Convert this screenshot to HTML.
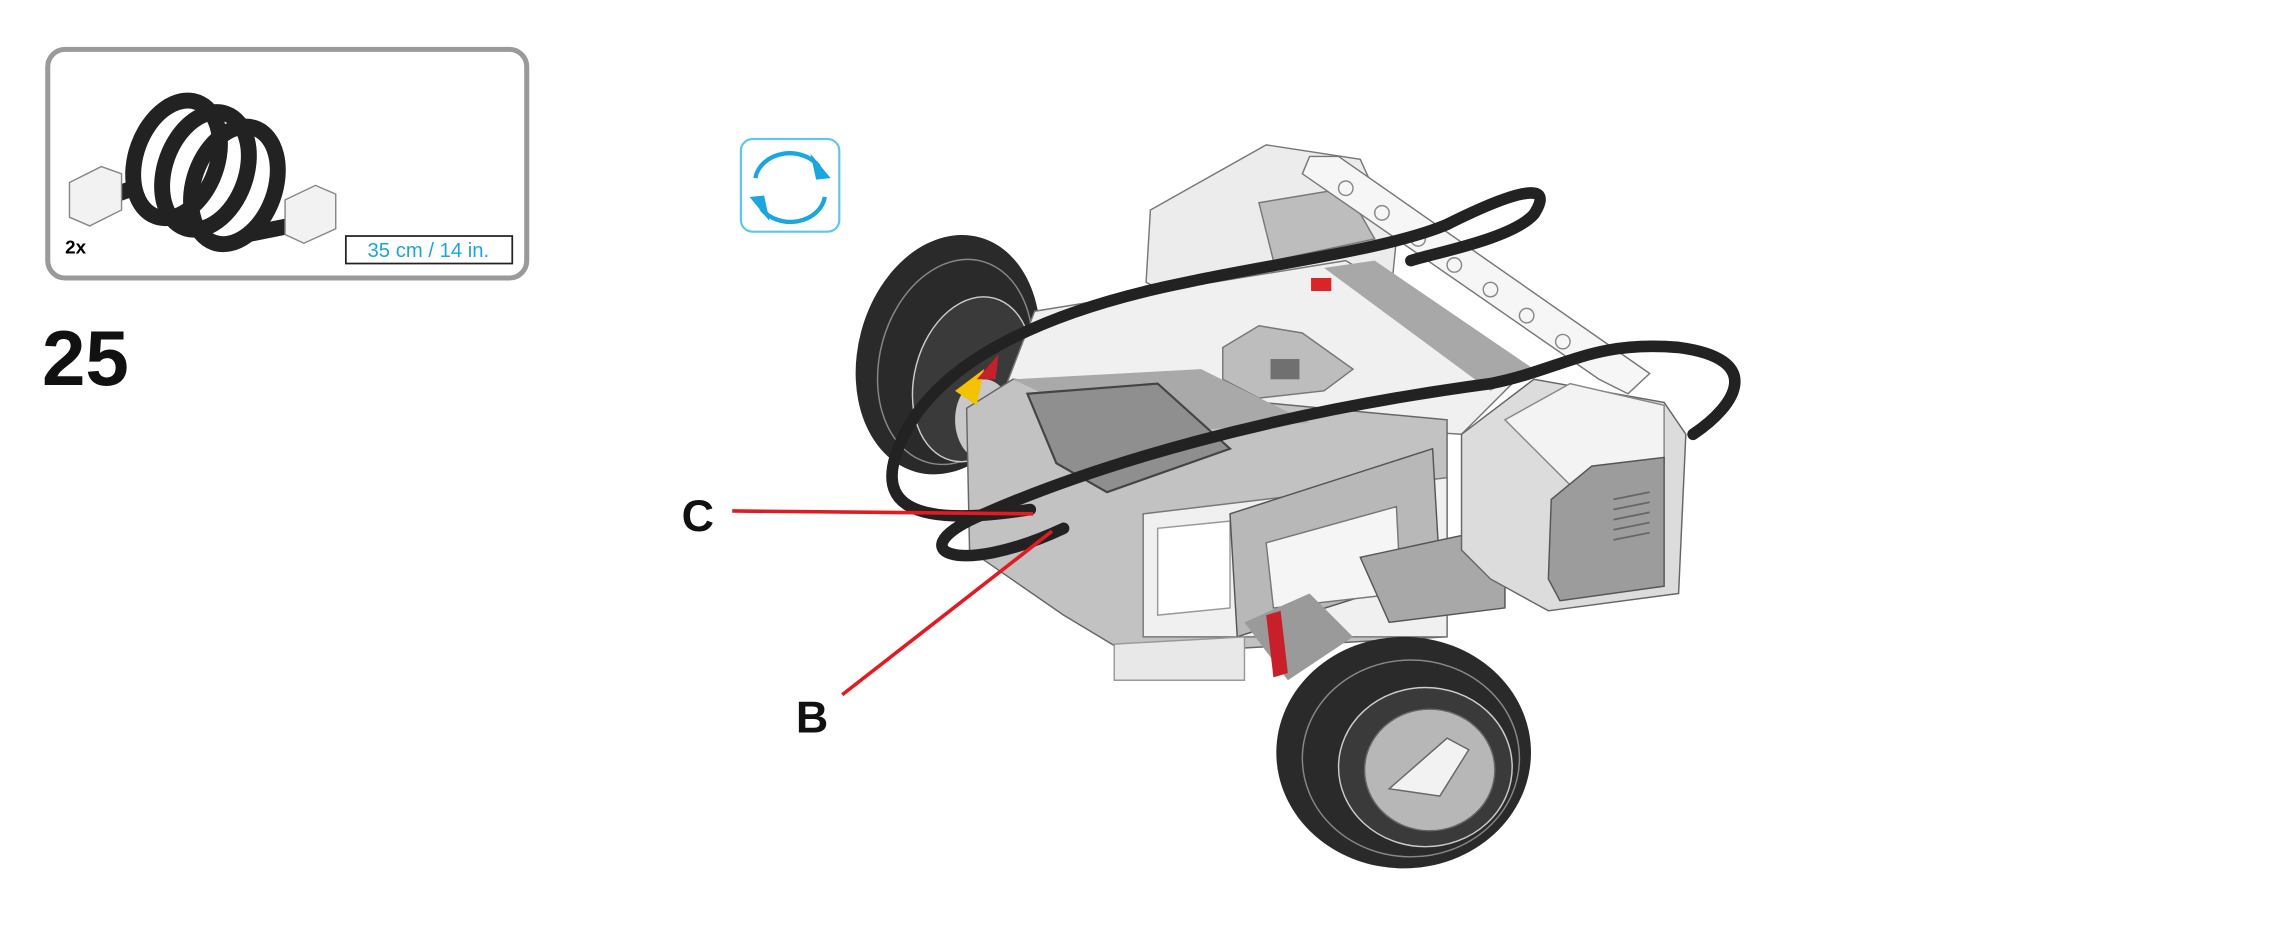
<!DOCTYPE html>
<html><head><meta charset="utf-8"><style>
html,body{margin:0;padding:0;background:#fff;}
svg{display:block;}
</style></head><body>
<svg width="2269" height="938" viewBox="0 0 1568 648" xmlns="http://www.w3.org/2000/svg">
<rect width="1568" height="648" fill="#fff"/>
<!-- parts box -->
<rect x="33" y="34" width="331" height="158" rx="12" fill="#fff" stroke="#9a9a9a" stroke-width="3.5"/>
<g fill="none" stroke="#222" stroke-width="11">
<ellipse cx="122" cy="110" rx="28" ry="42" transform="rotate(20 122 110)"/>
<ellipse cx="142" cy="118" rx="28" ry="42" transform="rotate(20 142 118)"/>
<ellipse cx="162" cy="128" rx="28" ry="42" transform="rotate(20 162 128)"/>
<path d="M92 130 L78 135 M170 162 L205 155"/>
</g>
<g fill="#f2f2f2" stroke="#888" stroke-width="1">
<path d="M48 126 L70 115 L84 120 L84 145 L62 156 L48 150Z"/>
<path d="M197 138 L218 128 L232 134 L232 158 L210 168 L197 162Z"/>
</g>
<text x="45" y="175" font-family="Liberation Sans,sans-serif" font-weight="bold" font-size="13">2x</text>
<rect x="239" y="163" width="115" height="19" fill="#fff" stroke="#222" stroke-width="1.2"/>
<text x="296" y="177.5" text-anchor="middle" font-family="Liberation Sans,sans-serif" font-size="14" fill="#1aa6e0">35 cm / 14 in.</text>
<text x="29" y="266" font-family="Liberation Sans,sans-serif" font-weight="bold" font-size="54" fill="#111">25</text>
<!-- rotate icon -->
<rect x="512" y="96" width="68" height="64" rx="8" fill="#fff" stroke="#59c7ee" stroke-width="1.5"/>
<g fill="none" stroke="#1aa6e0" stroke-width="3">
<path d="M522 123 A24 20 0 0 1 566 115"/>
<path d="M570 136 A24 20 0 0 1 526 144"/>
</g>
<path d="M560 106 L574 123 L564 124Z" fill="#1aa6e0"/>
<path d="M532 153 L518 136 L528 135Z" fill="#1aa6e0"/>
<!-- rear left wheel -->
<ellipse cx="655" cy="245" rx="62" ry="84" transform="rotate(15 655 245)" fill="#2a2a2a"/>
<ellipse cx="660" cy="250" rx="52" ry="72" transform="rotate(15 660 250)" fill="none" stroke="#888" stroke-width="1"/>
<ellipse cx="672" cy="262" rx="40" ry="58" transform="rotate(15 672 262)" fill="#3a3a3a" stroke="#ccc" stroke-width="1"/>
<ellipse cx="680" cy="290" rx="20" ry="28" fill="#c8c8c8"/>
<!-- back motor -->
<path d="M795 145 L875 100 L940 110 L965 165 L960 215 L870 235 L792 195Z" fill="#ececec" stroke="#777" stroke-width="1"/>
<path d="M870 140 L930 130 L950 165 L880 180Z" fill="#bdbdbd" stroke="#777" stroke-width="1"/>
<!-- brick top -->
<path d="M715 215 L930 180 L1055 255 L1010 300 L690 280Z" fill="#f0f0f0" stroke="#777" stroke-width="1"/>
<path d="M915 185 L950 180 L1060 255 L1030 270Z" fill="#a8a8a8"/>
<path d="M845 240 L870 225 L900 230 L935 255 L915 270 L870 275 L845 262Z" fill="#bdbdbd" stroke="#777"/>
<rect x="878" y="248" width="20" height="14" fill="#707070"/>
<rect x="906" y="192" width="14" height="9" fill="#d9252a"/>
<!-- brick front -->
<path d="M668 282 L700 262 L1000 290 L1000 440 L780 452 L735 425 L670 380Z" fill="#c2c2c2" stroke="#666" stroke-width="1"/>
<path d="M700 262 L830 255 L905 292 L780 300Z" fill="#a9a9a9"/>
<path d="M710 272 L800 265 L850 310 L765 340 L730 320Z" fill="#8f8f8f" stroke="#444" stroke-width="1.5"/>
<path d="M790 355 L1000 330 L1000 440 L790 440Z" fill="#f0f0f0" stroke="#777" stroke-width="1"/>
<path d="M800 365 L850 360 L850 420 L800 425Z" fill="#fff" stroke="#999"/>
<!-- frame -->
<path d="M850 355 L990 310 L995 395 L900 425 L855 440Z" fill="#b8b8b8" stroke="#555" stroke-width="1"/>
<path d="M875 375 L965 350 L968 410 L880 420Z" fill="#f5f5f5" stroke="#777"/>
<path d="M940 385 L1010 370 L1040 385 L1040 420 L960 430Z" fill="#a8a8a8" stroke="#555"/>
<path d="M770 445 L860 440 L860 470 L770 470Z" fill="#e8e8e8" stroke="#999"/>
<!-- right motor -->
<path d="M1010 300 L1060 262 L1150 278 L1165 300 L1160 410 L1070 422 L1030 400 L1010 380Z" fill="#dcdcdc" stroke="#666" stroke-width="1"/>
<path d="M1040 290 L1085 265 L1150 280 L1150 320 L1085 335Z" fill="#f3f3f3" stroke="#888"/>
<path d="M1072 345 L1100 322 L1150 316 L1150 405 L1078 415 L1070 400Z" fill="#9c9c9c" stroke="#555"/>
<g stroke="#666" stroke-width="1.2"><path d="M1115 345 L1140 340 M1115 352 L1140 347 M1115 359 L1140 354 M1115 366 L1140 361 M1115 373 L1140 368"/></g>
<!-- beam -->
<path d="M905 108 L925 108 L1140 258 L1125 272 L1105 262 L900 120Z" fill="#f6f6f6" stroke="#777" stroke-width="1"/>
<g fill="none" stroke="#888" stroke-width="1"><circle cx="930" cy="130" r="5"/><circle cx="955" cy="147" r="5"/><circle cx="980" cy="165" r="5"/><circle cx="1005" cy="183" r="5"/><circle cx="1030" cy="200" r="5"/><circle cx="1055" cy="218" r="5"/><circle cx="1080" cy="236" r="5"/></g>
<!-- axle + front wheel -->
<path d="M860 430 L905 410 L935 440 L890 470Z" fill="#9a9a9a"/>
<path d="M875 425 L885 422 L890 465 L880 468Z" fill="#c8202a"/>
<ellipse cx="970" cy="520" rx="88" ry="80" fill="#2a2a2a"/>
<ellipse cx="975" cy="524" rx="75" ry="68" fill="none" stroke="#888" stroke-width="1"/>
<ellipse cx="985" cy="530" rx="60" ry="55" fill="#3a3a3a" stroke="#ccc"/>
<ellipse cx="988" cy="532" rx="45" ry="42" fill="#b7b7b7" stroke="#666"/>
<path d="M960 545 L1000 510 L1015 518 L995 550Z" fill="#f2f2f2" stroke="#666"/>
<!-- yellow -->
<path d="M660 270 L680 255 L675 280Z" fill="#f3c300"/>
<path d="M675 262 L690 245 L688 262Z" fill="#c8202a"/>
<!-- cables -->
<g fill="none" stroke="#222" stroke-width="8" stroke-linecap="round">
<path d="M712 352 C 630 365, 600 350, 625 300 C 650 250, 720 215, 820 195 C 880 182, 960 172, 1000 155 C 1050 130, 1075 125, 1060 148 C 1045 165, 990 175, 975 180"/>
<path d="M735 365 C 660 400, 620 380, 680 355 C 760 320, 880 285, 1030 265 C 1080 255, 1100 235, 1160 240 C 1220 248, 1200 280, 1170 300"/>
</g>
<!-- label lines -->
<g stroke="#e21a22" stroke-width="2.5"><path d="M506 353 L714 355"/><path d="M582 480 L727 367"/></g>
<g font-family="Liberation Sans,sans-serif" font-weight="bold" font-size="31" fill="#111">
<text x="471" y="367">C</text><text x="550" y="506">B</text></g>
</svg>
</body></html>
